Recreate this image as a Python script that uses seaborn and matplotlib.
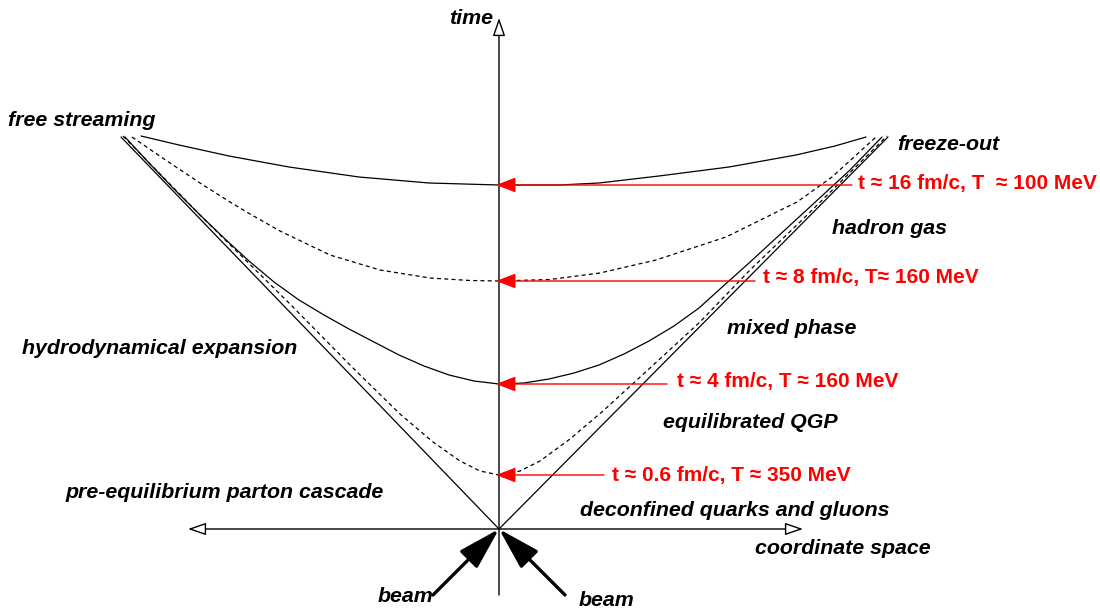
import numpy as np
import pandas as pd
import matplotlib
matplotlib.use("Agg")
import matplotlib.pyplot as plt
import seaborn as sns

# ---------------- data (z = space, t = time) ----------------
cone_z = [-378, 0, 389]
cone_t = [392, 0, 392]

# tau ~ 16 fm/c (solid, freeze-out)
c16_z = [-358, -320, -270, -210, -140, -70, 0, 60, 100, 160, 230, 297, 336, 367]
c16_t = [393, 384, 373, 362, 352, 346, 344, 344, 346, 353, 362, 374, 383, 392]

# tau ~ 8 fm/c (dashed)
c8_z = [-367, -332, -299, -269, -249, -219, -169, -119, -69, -29, 0,
        51, 101, 157, 227, 298, 333, 377]
c8_t = [392, 368, 346, 327, 315, 298, 274, 259, 251, 248.5, 248,
        249.5, 256, 269, 292, 327, 352, 392]

# tau ~ 4 fm/c (solid)
c4_z = [-374, -350, -325, -300, -275, -250, -225, -200, -175, -150, -125, -100, -75, -50, -25, 0,
        25, 50, 75, 100, 125, 150, 175, 200, 221, 250, 300, 350, 383]
c4_t = [392, 366, 340, 315, 291, 268, 247, 229, 214, 200, 187, 174, 163, 154, 148, 145,
        146, 150, 156, 164, 175, 188, 203, 221, 240, 266, 312, 358, 392]

# tau ~ 0.6 fm/c (dashed)
c06_z = [-376, -299, -209, -149, -99, -66, -39, -19, 0, 21, 41, 71, 104, 151, 201, 251, 301, 388]
c06_t = [393, 314, 225, 164, 115, 87, 68, 58, 54, 58, 68, 90, 118, 161, 207, 259, 307, 393]

# red annotations
red_labels = ["t \u2248 16 fm/c, T  \u2248 100 MeV",
              "t \u2248 8 fm/c, T\u2248 160 MeV",
              "t \u2248 4 fm/c, T \u2248 160 MeV",
              "t \u2248 0.6 fm/c, T \u2248 350 MeV"]
red_t = [344, 248, 145, 54]
red_start_z = [353, 256, 168, 105]
red_text_z = [359, 264, 178, 113]
red_text_t = [345, 251, 147, 54]

# black labels
labels = ["free streaming", "freeze-out", "hadron gas", "mixed phase",
          "hydrodynamical expansion", "equilibrated QGP",
          "pre-equilibrium parton cascade", "deconfined quarks and gluons",
          "coordinate space", "beam", "beam", "time"]
label_z = [-491, 398, 333, 228, -477, 164, -434, 81, 256, -66, 80, -6]
label_t = [409, 385, 300, 200, 181, 106, 37, 19, -20, -67, -72, 511]
label_ha = ["left"] * 9 + ["right", "left", "right"]

# ---------------- figure ----------------
sns.set_theme(style="white")
plt.rcParams["font.family"] = ["Liberation Sans", "DejaVu Sans"]

fig = plt.figure(figsize=(11, 6.1), dpi=100)
ax = fig.add_axes([0, 0, 1, 1])
ax.set_xlim(-499, 601)
ax.set_ylim(-81, 529)
ax.axis("off")

lw = 0.9
dash = (0, (3.2, 2.6))

common = dict(sort=False, estimator=None, ax=ax, color="black", lw=lw)
sns.lineplot(x=cone_z, y=cone_t, **common)
sns.lineplot(x=c16_z, y=c16_t, **common)
sns.lineplot(x=c8_z, y=c8_t, linestyle=dash, **common)
sns.lineplot(x=c4_z, y=c4_t, **common)
sns.lineplot(x=c06_z, y=c06_t, linestyle=dash, **common)

# axes with open arrowheads
ax_kw = dict(arrowstyle="-|>,head_length=1.1,head_width=0.38", mutation_scale=10,
             lw=1.0, facecolor="white", edgecolor="black", shrinkA=0, shrinkB=0)
ax.annotate("", xy=(0, 511), xytext=(0, -66), arrowprops=ax_kw)
ax.annotate("", xy=(304, 0), xytext=(0, 0), arrowprops=ax_kw)
ax.annotate("", xy=(-311, 0), xytext=(0, 0), arrowprops=ax_kw)

# red arrows
for lab, tt, zs, tz, tl in zip(red_labels, red_t, red_start_z, red_text_z, red_text_t):
    ax.annotate("", xy=(-3, tt), xytext=(zs, tt),
                arrowprops=dict(arrowstyle="-|>,head_length=1.1,head_width=0.42",
                                mutation_scale=11, lw=1.0, color="#ff0000",
                                shrinkA=0, shrinkB=0), zorder=5)
    ax.text(tz, tl, lab, color="#ff0000", fontsize=15, fontweight="bold",
            ha="left", va="center")

# beam arrows
beam_kw = dict(arrowstyle="-|>,head_length=2.6,head_width=0.75", mutation_scale=10,
               lw=2.4, color="black", shrinkA=0, shrinkB=0)
ax.annotate("", xy=(0, 0), xytext=(-66, -66), arrowprops=beam_kw)
ax.annotate("", xy=(0, 0), xytext=(66, -66), arrowprops=beam_kw)

for lab, z, t, ha in zip(labels, label_z, label_t, label_ha):
    ax.text(z, t, lab, fontsize=15.4, fontweight="bold", fontstyle="italic",
            ha=ha, va="center", color="black")

fig.savefig("out.png", dpi=100, facecolor="white")
